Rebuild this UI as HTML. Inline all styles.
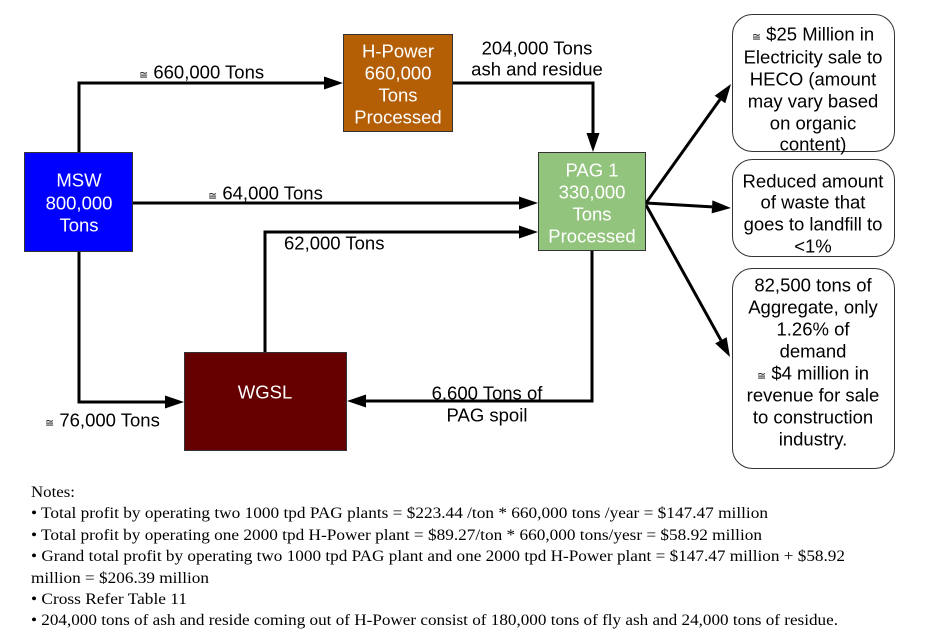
<!DOCTYPE html>
<html>
<head>
<meta charset="utf-8">
<style>
html,body{margin:0;padding:0;background:#fff;}
svg{display:block;}
.t{font-family:"Liberation Sans",Arial,sans-serif;font-size:18.5px;fill:#000;}
.w{fill:#fff;}
.n{font-family:"Liberation Serif","Times New Roman",serif;font-size:16px;fill:#000;}
.ap{font-size:11px;}
</style>
</head>
<body>
<svg width="937" height="640" viewBox="0 0 937 640" xmlns="http://www.w3.org/2000/svg">
<rect x="0" y="0" width="937" height="640" fill="#fff"/>

<!-- connectors -->
<g stroke="#000" stroke-width="3" fill="none">
  <path d="M79 152 V83 H325"/>
  <path d="M453 83 H593 V134"/>
  <path d="M133 203 H520"/>
  <path d="M265 352 V232 H520"/>
  <path d="M79 252 V402 H166"/>
  <path d="M592 251 V401 H365"/>
  <path d="M646 203 L720 99.5"/>
  <path d="M646 203 L712 206.9"/>
  <path d="M646 205 L721 340.3"/>
</g>
<g fill="#000">
  <polygon points="324,76.5 343,83 324,89.5"/>
  <polygon points="586.5,133 593,152 599.5,133"/>
  <polygon points="519,196.5 538,203 519,209.5"/>
  <polygon points="519,225.5 538,232 519,238.5"/>
  <polygon points="165,395.5 184,402 165,408.5"/>
  <polygon points="366,394.5 347,401 366,407.5"/>
  <polygon points="725.25,103.25 731,84 714.67,95.69"/>
  <polygon points="711.66,213.38 731,208 712.42,200.4"/>
  <polygon points="715.19,343.43 730,357 726.61,337.21"/>
</g>

<!-- boxes -->
<rect x="24.5" y="152.5" width="108" height="99" fill="#0000ff" stroke="#333" stroke-width="1"/>
<rect x="343.5" y="34.5" width="109" height="97" fill="#b45f06" stroke="#333" stroke-width="1"/>
<rect x="538.5" y="152.5" width="107" height="98" fill="#93c47d" stroke="#333" stroke-width="1"/>
<rect x="184.5" y="352.5" width="162" height="98" fill="#660000" stroke="#333" stroke-width="1"/>

<rect x="732.5" y="14.5" width="162" height="137" rx="20" ry="20" fill="#fff" stroke="#333" stroke-width="1"/>
<rect x="732.5" y="159.5" width="162" height="97" rx="20" ry="20" fill="#fff" stroke="#333" stroke-width="1"/>
<rect x="732.5" y="268.5" width="162" height="200" rx="20" ry="20" fill="#fff" stroke="#333" stroke-width="1"/>

<!-- box texts -->
<g class="t w" text-anchor="middle">
  <text x="79" y="186.5">MSW</text>
  <text x="79" y="209.5">800,000</text>
  <text x="79" y="231.5">Tons</text>

  <text x="398" y="57.5">H-Power</text>
  <text x="398" y="79.5">660,000</text>
  <text x="398" y="101.5">Tons</text>
  <text x="398" y="123.5">Processed</text>

  <text x="592" y="176.5">PAG 1</text>
  <text x="592" y="198.5">330,000</text>
  <text x="592" y="220.5">Tons</text>
  <text x="592" y="242.5">Processed</text>

  <text x="265" y="398.5">WGSL</text>
</g>

<g class="t" text-anchor="middle">
  <text x="813" y="40.5"><tspan class="ap">≅</tspan> $25 Million in</text>
  <text x="813" y="63.5">Electricity sale to</text>
  <text x="813" y="85.5">HECO (amount</text>
  <text x="813" y="107.5">may vary based</text>
  <text x="813" y="129.5">on organic</text>
  <text x="813" y="150.5">content)</text>

  <text x="813" y="187.5">Reduced amount</text>
  <text x="813" y="208.5">of waste that</text>
  <text x="813" y="230.5">goes to landfill to</text>
  <text x="813" y="252.5">&lt;1%</text>

  <text x="813" y="291.5">82,500 tons of</text>
  <text x="813" y="313.5">Aggregate, only</text>
  <text x="813" y="335.5">1.26% of</text>
  <text x="813" y="357.5">demand</text>
  <text x="813" y="379.5"><tspan class="ap">≅</tspan> $4 million in</text>
  <text x="813" y="401.5">revenue for sale</text>
  <text x="813" y="423.5">to construction</text>
  <text x="813" y="445.5">industry.</text>

  <text x="537" y="54.5">204,000 Tons</text>
  <text x="537" y="75.5">ash and residue</text>
  <text x="487" y="399.5">6,600 Tons of</text>
  <text x="487" y="421.5">PAG spoil</text>
</g>

<g class="t">
  <text x="139" y="78.5"><tspan class="ap">≅</tspan> 660,000 Tons</text>
  <text x="208" y="199.5"><tspan class="ap">≅</tspan> 64,000 Tons</text>
  <text x="284" y="249.5">62,000 Tons</text>
  <text x="45" y="426.5"><tspan class="ap">≅</tspan> 76,000 Tons</text>
</g>

<!-- notes -->
<g class="n">
  <text x="31" y="497" textLength="44" lengthAdjust="spacingAndGlyphs">Notes:</text>
  <text x="31" y="518" textLength="737" lengthAdjust="spacingAndGlyphs">• Total profit by operating two 1000 tpd PAG plants = $223.44 /ton * 660,000 tons /year = $147.47 million</text>
  <text x="31" y="540" textLength="731" lengthAdjust="spacingAndGlyphs">• Total profit by operating one 2000 tpd H-Power plant = $89.27/ton * 660,000 tons/yesr = $58.92 million</text>
  <text x="31" y="561" textLength="814" lengthAdjust="spacingAndGlyphs">• Grand total profit by operating two 1000 tpd PAG plant and one 2000 tpd H-Power plant = $147.47 million + $58.92</text>
  <text x="31" y="583" textLength="178" lengthAdjust="spacingAndGlyphs">million = $206.39 million</text>
  <text x="31" y="604" textLength="156" lengthAdjust="spacingAndGlyphs">• Cross Refer Table 11</text>
  <text x="31" y="625" textLength="807" lengthAdjust="spacingAndGlyphs">• 204,000 tons of ash and reside coming out of H-Power consist of 180,000 tons of fly ash and 24,000 tons of residue.</text>
</g>
</svg>
</body>
</html>
